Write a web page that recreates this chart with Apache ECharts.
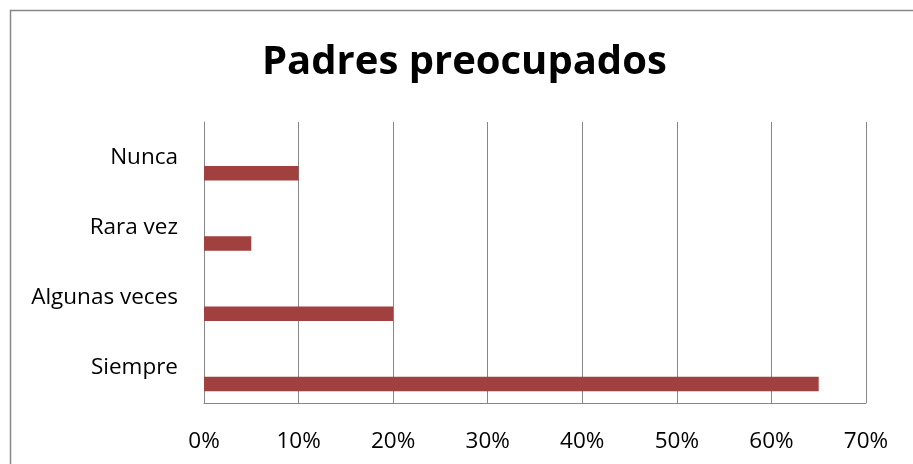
<!DOCTYPE html>
<html lang="es" style="height: 100%">
<head>
    <meta charset="UTF-8">
    <title>Padres preocupados</title>
    <script src="https://cdn.jsdelivr.net/npm/echarts@6/dist/echarts.min.js"></script>
</head>
<body style="height: 100%; margin: 0">
<div id="main" style="width: 913px; height: 464px"></div>
<script>
    // categorias de abajo hacia arriba (como en el grafico)
    var categorias = ['Siempre', 'Algunas veces', 'Rara vez', 'Nunca'];
    var porcentajes = [65, 20, 5, 10];
    var vacio = [null, null, null, null];
    var ticksX = [0, 10, 20, 30, 40, 50, 60, 70];

    var fuente = '"Open Sans", "Noto Sans", sans-serif';
    var gris = '#878787';

    var myoption = {
        animation: false,
        backgroundColor: '#fff',
        title: {
            text: 'Padres preocupados',
            left: 257,
            top: 38,
            textStyle: {
                fontFamily: fuente,
                fontWeight: 'bold',
                fontSize: 40,
                color: '#000'
            }
        },
        graphic: [{
            type: 'rect',
            shape: {x: 10.5, y: 10.5, width: 920, height: 480},
            style: {fill: null, stroke: gris, lineWidth: 1.5},
            silent: true
        }],
        grid: {
            left: 204,
            right: 47,
            top: 122,
            bottom: 61
        },
        xAxis: {
            type: 'value',
            min: ticksX[0],
            max: ticksX[ticksX.length - 1],
            interval: 10,
            axisLine: {show: true, lineStyle: {color: gris}},
            axisTick: {show: false},
            axisLabel: {
                formatter: '{value}%',
                margin: 27,
                fontFamily: fuente,
                fontSize: 22.5,
                color: '#000'
            },
            splitLine: {show: true, lineStyle: {color: gris, width: 1}}
        },
        yAxis: {
            type: 'category',
            data: categorias,
            axisLine: {show: true, lineStyle: {color: gris}},
            axisTick: {show: false},
            axisLabel: {
                margin: 26,
                fontFamily: fuente,
                fontSize: 22.5,
                color: '#000'
            },
            splitLine: {show: false}
        },
        series: [
            {
                name: 'vacio',
                type: 'bar',
                data: vacio,
                barWidth: 14.5,
                barGap: '121%',
                silent: true
            },
            {
                name: 'Padres preocupados',
                type: 'bar',
                data: porcentajes,
                barWidth: 14.5,
                barGap: '121%',
                itemStyle: {color: '#A0413F'}
            }
        ]
    };
    var myChart = echarts.init(document.getElementById('main'));
    myChart.setOption(myoption);
</script>
</body>
</html>
